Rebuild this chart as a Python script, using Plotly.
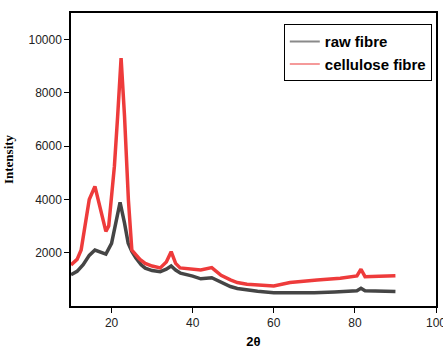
import plotly.graph_objects as go

raw_x = [10, 11.5, 13, 14.5, 15.9, 17, 18.6, 20.0, 21.0, 22.1, 23.2, 24.1, 25, 26, 27.3, 28.3,
         30, 32, 33.5, 34.7, 35.8, 37, 40, 42, 44.7, 47, 49.3, 51, 53.4, 56, 60, 65, 70, 75,
         80.5, 81.5, 82.5, 85, 90]
raw_y = [1170, 1300, 1550, 1900, 2100, 2050, 1950, 2350, 3110, 3890, 3110, 2360, 2050, 1800, 1550, 1420,
         1330, 1290, 1380, 1500, 1350, 1230, 1120, 1020, 1060, 900, 730, 660, 600, 550, 500, 490, 500, 530,
         575, 665, 570, 560, 540]

cel_x = [10, 11.5, 12.5, 13.5, 14.5, 15.9, 17.1, 18.6, 19.3, 20.0, 20.7, 21.5, 22.35, 23.2, 23.75, 24.15,
         25, 26, 27, 28.3, 30, 32, 33.5, 34.7, 35.8, 36.9, 40, 42, 44.7, 47, 49.3, 51, 53.4, 57, 60, 64,
         67, 70.7, 76.4, 80.5, 81.5, 82.5, 86, 90]
cel_y = [1540, 1750, 2100, 3000, 4000, 4490, 3730, 2800, 3000, 3990, 5240, 7120, 9310, 7120, 5240, 3990,
         2100, 1900, 1750, 1600, 1500, 1430, 1650, 2040, 1600, 1430, 1380, 1350, 1440, 1150, 980, 880, 815, 780, 750, 880,
         930, 980, 1040, 1130, 1380, 1100, 1120, 1140]

x_ticks = [20, 40, 60, 80, 100]
x_tick_labels = ["20", "40", "60", "80", "100"]
y_ticks = [2000, 4000, 6000, 8000, 10000]
y_tick_labels = ["2000", "4000", "6000", "8000", "10000"]

fig = go.Figure()
fig.add_trace(go.Scatter(x=raw_x, y=raw_y, mode="lines", name="raw fibre", showlegend=False,
                         line=dict(color="#454545", width=3.5)))
fig.add_trace(go.Scatter(x=cel_x, y=cel_y, mode="lines", name="cellulose fibre", showlegend=False,
                         line=dict(color="#EE3B3B", width=3.5)))
# legend entries (lighter line swatches, as in the original)
fig.add_trace(go.Scatter(x=[None], y=[None], mode="lines", name="raw fibre",
                         line=dict(color="#8a8a8a", width=2)))
fig.add_trace(go.Scatter(x=[None], y=[None], mode="lines", name="cellulose fibre",
                         line=dict(color="#F59A9A", width=2)))

axis_common = dict(showline=True, linecolor="black", linewidth=1.5, mirror=True,
                   ticks="outside", ticklen=5, tickcolor="black", showgrid=False, zeroline=False,
                   ticklabeloverflow="allow", automargin=False,
                   tickfont=dict(family="Liberation Sans, Arial", size=12, color="#222"))

fig.update_layout(
    width=443, height=351,
    margin=dict(l=71, r=7, t=13, b=45, autoexpand=False),
    paper_bgcolor="white", plot_bgcolor="white",
    xaxis=dict(range=[10, 100], tickmode="array", tickvals=x_ticks, ticktext=x_tick_labels, **axis_common,
               title=dict(text="2θ", standoff=8,
                          font=dict(family="Liberation Sans, Arial", size=13, color="black", weight="bold"))),
    yaxis=dict(range=[0, 11000], tickmode="array", tickvals=y_ticks, ticktext=y_tick_labels, **axis_common,
               title=dict(text="Intensity", standoff=12,
                          font=dict(family="Liberation Serif, Times New Roman", size=13, color="black", weight="bold"))),
    legend=dict(x=0.583, y=0.962, xanchor="left", yanchor="top",
                bordercolor="black", borderwidth=1, bgcolor="white",
                font=dict(family="Liberation Sans, Arial", size=15, color="black", weight="bold"),
                tracegroupgap=0, itemwidth=30),
    showlegend=True,
)

fig.write_html("out.html")
